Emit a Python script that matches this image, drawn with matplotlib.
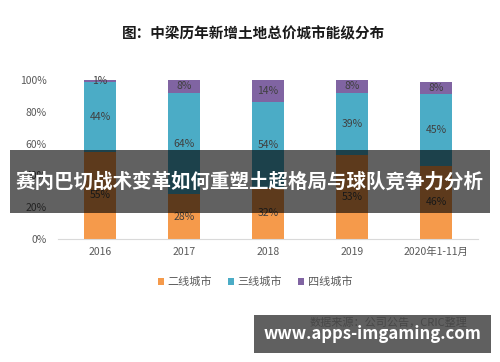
import matplotlib
matplotlib.use("Agg")
import matplotlib.pyplot as plt
from matplotlib.patches import Rectangle

plt.rcParams['font.family'] = ['Noto Sans CJK SC', 'DejaVu Sans']

# data
years = ["2016", "2017", "2018", "2019", "2020年1-11月"]
tier2 = [55, 28, 32, 53, 46]
tier3 = [44, 64, 54, 39, 45]
tier4 = [1, 8, 14, 8, 8]
series_names = ["二线城市", "三线城市", "四线城市"]
colors = ["#F59A4B", "#4BACC6", "#8064A2"]
yticks = [0, 20, 40, 60, 80, 100]

fig = plt.figure(figsize=(5, 3.62), dpi=100)
ax = fig.add_axes([0.116, 0.340, 0.84, 0.439])

x = range(len(years))
bottom = [0] * len(years)
handles = []
for vals, name, col in zip([tier2, tier3, tier4], series_names, colors):
    bars = ax.bar(x, vals, bottom=bottom, width=0.39, color=col, label=name)
    handles.append(bars)
    for i, v in enumerate(vals):
        ax.text(i, bottom[i] + v / 2, f"{v}%", ha="center", va="center",
                fontsize=7.5, color="#404040")
    bottom = [b + v for b, v in zip(bottom, vals)]

ax.set_xlim(-0.5, len(years) - 0.5)
ax.set_ylim(0, 100)
ax.set_yticks(yticks)
ax.set_yticklabels([f"{t}%" for t in yticks])
ax.set_xticks(list(x))
ax.set_xticklabels(years)
ax.tick_params(axis="both", length=0, labelsize=7.5, colors="#595959")
ax.tick_params(axis="y", pad=8)
ax.tick_params(axis="x", pad=6)
for s in ["top", "right", "left"]:
    ax.spines[s].set_visible(False)
ax.spines["bottom"].set_color("#D9D9D9")

fig.text(0.508, 0.908, "图：中梁历年新增土地总价城市能级分布", ha="center", va="center",
         fontsize=10.5, fontweight="bold", color="#1a1a1a")

fig.legend(handles=handles, labels=series_names, loc="center", bbox_to_anchor=(0.51, 0.221),
           ncol=3, frameon=False, fontsize=8, handlelength=0.6, handleheight=0.6,
           handletextpad=0.3, columnspacing=1.4, labelcolor="#595959")

# source line, mostly covered by the watermark
fig.text(0.62, 0.11, "数据来源：公司公告，CRIC整理", ha="left", va="center",
         fontsize=8, color="#333333")

# overlay banners
fig.patches.append(Rectangle((0.02, 1 - 213 / 362), 0.96, 63 / 362, transform=fig.transFigure,
                             facecolor="black", alpha=0.62, edgecolor="none", zorder=5))
fig.text(0.5, 1 - 181.5 / 362, "赛内巴切战术变革如何重塑土超格局与球队竞争力分析", ha="center",
         va="center", fontsize=14, fontweight="bold", color="white", zorder=6)

fig.patches.append(Rectangle((254 / 500, 1 - 353 / 362), 237 / 500, 38 / 362, transform=fig.transFigure,
                             facecolor="#4a4a4a", alpha=0.88, edgecolor="none", zorder=5))
fig.text(372 / 500, 1 - 334 / 362, "www.apps-imgaming.com", ha="center", va="center",
         fontsize=12, fontweight="bold", color="white", zorder=6)

fig.savefig("out.png", dpi=100)
